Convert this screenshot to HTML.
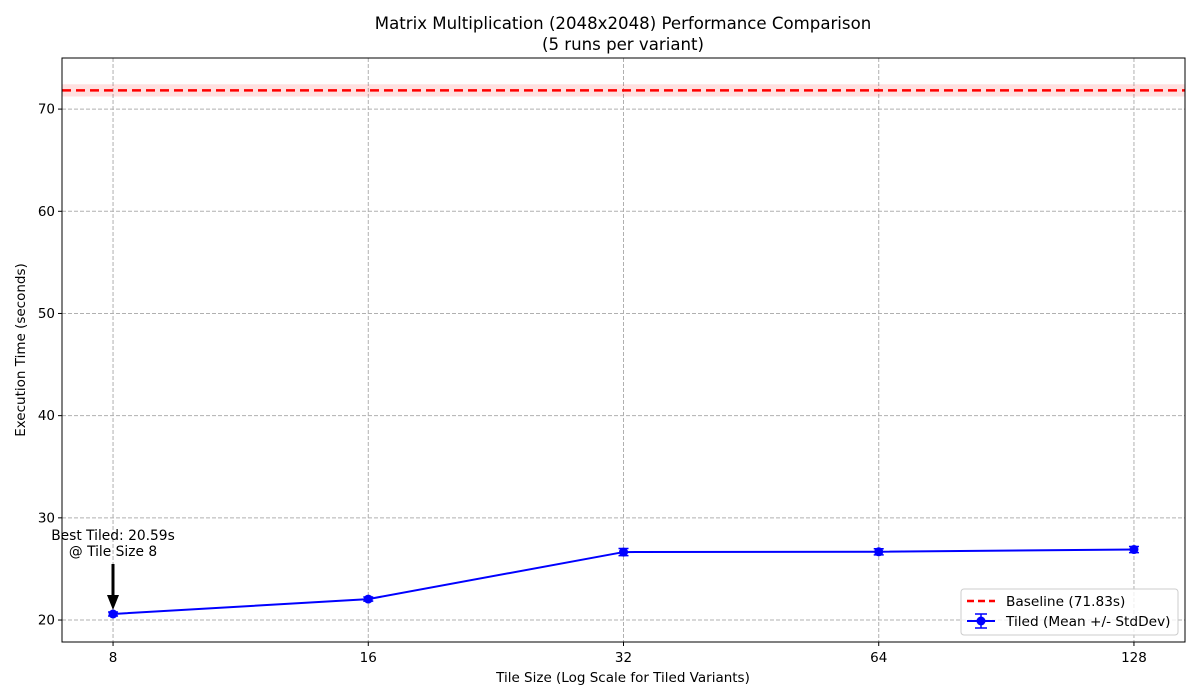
<!DOCTYPE html>
<html><head><meta charset="utf-8"><style>
body{margin:0;background:#fff;}
svg{display:block;font-family:"DejaVu Sans","Liberation Sans",sans-serif;}
</style></head><body>
<svg id="chart" width="1200" height="700">
<text x="623" y="29" font-size="16.6" text-anchor="middle">Matrix Multiplication (2048x2048) Performance Comparison</text>
<text x="623" y="50" font-size="16.6" text-anchor="middle">(5 runs per variant)</text>
<g id="grid"></g>
<g id="marks"></g>
<rect x="62" y="58" width="1123" height="584" fill="none" stroke="#000" stroke-width="1"/>
<g id="axes"></g>
<text x="623" y="682" font-size="13.5" text-anchor="middle">Tile Size (Log Scale for Tiled Variants)</text>
<text x="25" y="350" font-size="13.5" text-anchor="middle" transform="rotate(-90 25 350)">Execution Time (seconds)</text>
<g>
<text x="113" y="540" font-size="13.8" text-anchor="middle">Best Tiled: 20.59s</text>
<text x="113" y="556" font-size="13.8" text-anchor="middle">@ Tile Size 8</text>
<line x1="113" y1="564" x2="113" y2="598" stroke="#000" stroke-width="3"/>
<polygon points="107,595 119,595 113,610" fill="#000"/>
</g>
<g>
<rect x="961" y="589" width="217" height="46" rx="3" fill="#fff" fill-opacity="0.8" stroke="#ccc"/>
<line x1="967" y1="601" x2="995" y2="601" stroke="red" stroke-width="2.5" stroke-dasharray="7,4"/>
<text x="1006" y="606" font-size="13.7">Baseline (71.83s)</text>
<g>
<line x1="967" y1="621" x2="995" y2="621" stroke="blue" stroke-width="2"/>
<line x1="981" y1="614" x2="981" y2="628" stroke="blue" stroke-width="1.5"/>
<line x1="975" y1="614" x2="987" y2="614" stroke="blue" stroke-width="1.5"/>
<line x1="975" y1="628" x2="987" y2="628" stroke="blue" stroke-width="1.5"/>
<circle cx="981" cy="621" r="4.5" fill="blue"/>
</g>
<text x="1006" y="626" font-size="13.7">Tiled (Mean +/- StdDev)</text>
</g>
</svg>
<script>
const tileSizes=[8,16,32,64,128];
const meanTimes=[20.59,22.05,26.65,26.68,26.9];
const stdTimes=[0.2,0.2,0.35,0.3,0.3];
const baselineMean=71.83;
const baselineStd=0.6;
const yTicks=[20,30,40,50,60,70];

const NS="http://www.w3.org/2000/svg";
const X0=62,X1=1185,Y0=58,Y1=642;
const xmin=Math.log2(8)-0.2,xmax=Math.log2(128)+0.2;
const ymin=17.85,ymax=75;
function xs(v){return X0+(Math.log2(v)-xmin)/(xmax-xmin)*(X1-X0);}
function ys(v){return Y1-(v-ymin)/(ymax-ymin)*(Y1-Y0);}
function mk(tag,attrs,parent){const e=document.createElementNS(NS,tag);for(const k in attrs)e.setAttribute(k,attrs[k]);parent.appendChild(e);return e;}
const grid=document.getElementById('grid'),marks=document.getElementById('marks'),axes=document.getElementById('axes');

yTicks.forEach(t=>{
  const y=ys(t);
  const g=mk('line',{x1:X0,x2:X1,y1:y,y2:y,stroke:'#b0b0b0','stroke-dasharray':'4,2','stroke-width':1},grid);
  
  
  mk('line',{x1:X0-4,x2:X0,y1:y,y2:y,stroke:'#000'},axes);
  const tx=mk('text',{x:X0-7,y:y+4.5,'font-size':13.5,'text-anchor':'end'},axes);
  tx.textContent=t;
  
  
});
tileSizes.forEach(t=>{
  const x=xs(t);
  const g=mk('line',{x1:x,x2:x,y1:Y0,y2:Y1,stroke:'#b0b0b0','stroke-dasharray':'4,2','stroke-width':1},grid);
  
  
  mk('line',{x1:x,x2:x,y1:Y1,y2:Y1+4,stroke:'#000'},axes);
  const tx=mk('text',{x:x,y:Y1+20,'font-size':13.5,'text-anchor':'middle'},axes);
  tx.textContent=t;
  
  
});

const band=mk('rect',{x:X0,width:X1-X0,y:ys(baselineMean+baselineStd),height:ys(baselineMean-baselineStd)-ys(baselineMean+baselineStd),fill:'red','fill-opacity':0.12},marks);


const bl=mk('line',{x1:X0,x2:X1,y1:ys(baselineMean),y2:ys(baselineMean),stroke:'red','stroke-width':2.5,'stroke-dasharray':'9,5'},marks);



const pts=tileSizes.map((t,i)=>xs(t)+','+ys(meanTimes[i])).join(' ');
const pl=mk('polyline',{points:pts,fill:'none',stroke:'blue','stroke-width':2},marks);


tileSizes.forEach((t,i)=>{
  const x=xs(t),yt=ys(meanTimes[i]+stdTimes[i]),yb=ys(meanTimes[i]-stdTimes[i]);
  const eb=mk('path',{d:`M${x},${yt}V${yb}M${x-5},${yt}H${x+5}M${x-5},${yb}H${x+5}`,stroke:'blue','stroke-width':1.5,fill:'none'},marks);
  
  
  const c=mk('circle',{cx:x,cy:ys(meanTimes[i]),r:4.5,fill:'blue'},marks);
  
  
});
</script>
</body></html>
